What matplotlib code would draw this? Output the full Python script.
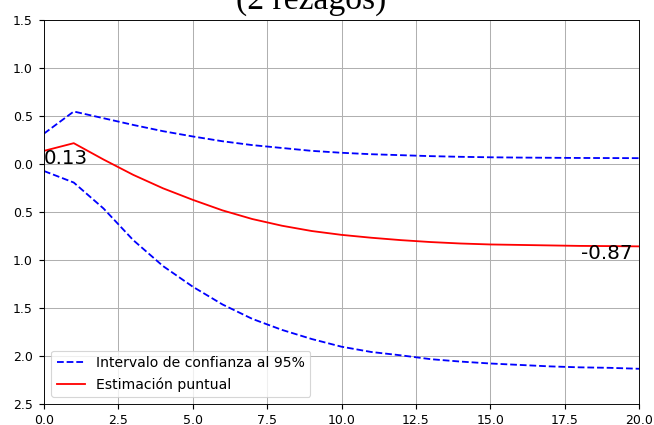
import matplotlib
matplotlib.use("Agg")
import matplotlib.pyplot as plt
from matplotlib.ticker import FuncFormatter

periods = list(range(21))
estimate = [0.14, 0.22, 0.05, -0.11, -0.25, -0.37, -0.48, -0.57, -0.64, -0.695, -0.735,
            -0.765, -0.79, -0.81, -0.825, -0.835, -0.84, -0.845, -0.85, -0.852, -0.855]
upper = [0.32, 0.55, 0.48, 0.41, 0.345, 0.29, 0.24, 0.20, 0.17, 0.14, 0.12,
         0.105, 0.095, 0.085, 0.078, 0.073, 0.07, 0.068, 0.066, 0.065, 0.064]
lower = [-0.07, -0.19, -0.46, -0.79, -1.06, -1.275, -1.46, -1.61, -1.725, -1.82, -1.90,
         -1.955, -1.99, -2.03, -2.055, -2.075, -2.09, -2.105, -2.115, -2.12, -2.13]
start_label = "0.13"
end_label = "-0.87"
title_text = "(2 rezagos)"
yticks = [1.5, 1.0, 0.5, 0.0, -0.5, -1.0, -1.5, -2.0, -2.5]
xticks = [0, 2.5, 5, 7.5, 10, 12.5, 15, 17.5, 20]

dpi = 82
fig = plt.figure(figsize=(654 / dpi, 425 / dpi), dpi=dpi)
ax = fig.add_axes([44 / 654, 20.7 / 425, 595 / 654, 384 / 425])

ax.plot(periods, upper, color="blue", linestyle="--", linewidth=1.6,
        label="Intervalo de confianza al 95%")
ax.plot(periods, estimate, color="red", linewidth=1.6, label="Estimación puntual")
ax.plot(periods, lower, color="blue", linestyle="--", linewidth=1.6)

ax.set_xlim(0, 20)
ax.set_ylim(-2.5, 1.5)
ax.set_yticks(yticks)
ax.set_xticks(xticks)
ax.yaxis.set_major_formatter(FuncFormatter(lambda v, p: f"{abs(v):.1f}"))
ax.xaxis.set_major_formatter(FuncFormatter(lambda v, p: f"{v:.1f}"))
ax.tick_params(axis="both", labelsize=11, length=4.4, width=1.0)
ax.tick_params(axis="y", pad=5.5)
ax.tick_params(axis="x", pad=4.5)
ax.grid(True, color="#b0b0b0", linewidth=0.9)
ax.set_axisbelow(True)

ax.text(0, 0, start_label, fontsize=17.5, ha="left", va="baseline")
ax.annotate(end_label, xy=(periods[-1], estimate[-1]), xytext=(-6, 2),
            textcoords="offset pixels", fontsize=17.5, ha="right", va="top")

ax.legend(loc="lower left", fontsize=12.3)

fig.text(311 / 654, 1 - 9 / 425, title_text, fontsize=29.5,
         family="Liberation Serif", ha="center", va="baseline")

fig.savefig("out.png", dpi=dpi)
